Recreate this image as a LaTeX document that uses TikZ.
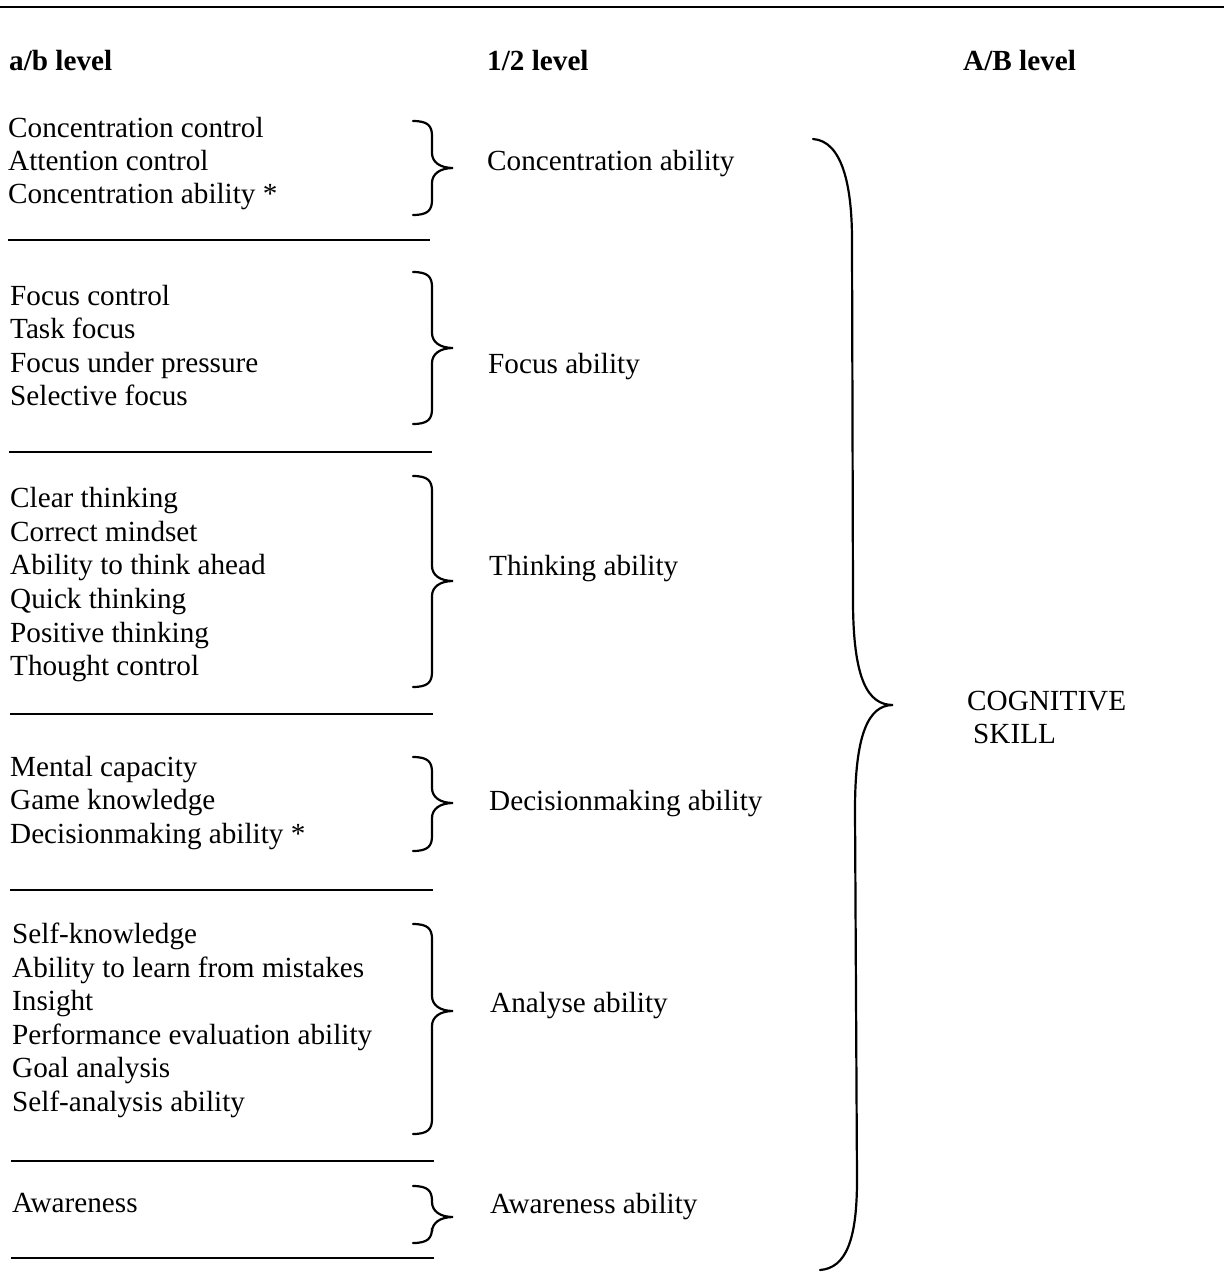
\documentclass[tikz,border=0pt]{standalone}
\usepackage{fontspec}
\setmainfont{Liberation Serif}
\begin{document}
\begin{tikzpicture}[x=1pt,y=-1pt,
  txt/.style={anchor=base west,inner sep=0pt,font=\fontsize{29.2}{33}\selectfont},
  hdr/.style={txt,font=\fontsize{29.2}{33}\selectfont\bfseries},
  rule/.style={line width=1.7pt},
  brc/.style={line width=2.2pt,line cap=round}]
\useasboundingbox (0,0) rectangle (1224,1285);

% small brace: #1 top end, #2 tip height, #3 bottom end
\newcommand\grpbrace[3]{%
  \draw[brc] (413,#1) .. controls (428,#1) and (432,#1+5) .. (432,#1+15)
    -- (432,#2-15) .. controls (432,#2-6) and (440,#2) .. (453,#2)
    .. controls (440,#2) and (432,#2+6) .. (432,#2+15)
    -- (432,#3-15) .. controls (432,#3-5) and (428,#3) .. (413,#3);}

% top rule
\draw[rule] (0,7) -- (1224,7);

% headings
\node[hdr] (hab) at (9,70) {a/b level};
\node[hdr] (h12) at (487,70) {1/2 level};
\node[hdr] (hAB) at (963,70) {A/B level};

% group 1
\node[txt] (a1) at (8,137) {Concentration control};
\node[txt] (a2) at (8,170) {Attention control};
\node[txt] (a3) at (8,203) {Concentration ability *};
\grpbrace{121}{168}{215}
\node[txt] (b1) at (487,170) {Concentration ability};
\draw[rule] (8,240) -- (430,240);

% group 2
\node[txt] (c1) at (10,305) {Focus control};
\node[txt] (c2) at (10,338) {Task focus};
\node[txt] (c3) at (10,372) {Focus under pressure};
\node[txt] (c4) at (10,405) {Selective focus};
\grpbrace{272}{348}{424}
\node[txt] (b2) at (488,373) {Focus ability};
\draw[rule] (9,452) -- (432,452);

% group 3
\node[txt] (d1) at (10,507) {Clear thinking};
\node[txt] (d2) at (10,541) {Correct mindset};
\node[txt] (d3) at (10,574) {Ability to think ahead};
\node[txt] (d4) at (10,608) {Quick thinking};
\node[txt] (d5) at (10,642) {Positive thinking};
\node[txt] (d6) at (10,675) {Thought control};
\grpbrace{476}{581}{687}
\node[txt] (b3) at (489,575) {Thinking ability};
\draw[rule] (10,714) -- (433,714);

% group 4
\node[txt] (e1) at (10,776) {Mental capacity};
\node[txt] (e2) at (10,809) {Game knowledge};
\node[txt] (e3) at (10,843) {Decisionmaking ability *};
\grpbrace{757}{803}{851}
\node[txt] (b4) at (489,810) {Decisionmaking ability};
\draw[rule] (10,890) -- (433,890);

% group 5
\node[txt] (f1) at (12,943) {Self-knowledge};
\node[txt] (f2) at (12,977) {Ability to learn from mistakes};
\node[txt] (f3) at (12,1010) {Insight};
\node[txt] (f4) at (12,1044) {Performance evaluation ability};
\node[txt] (f5) at (12,1077) {Goal analysis};
\node[txt] (f6) at (12,1111) {Self-analysis ability};
\grpbrace{924}{1011}{1134}
\node[txt] (b5) at (490,1012) {Analyse ability};
\draw[rule] (11,1161) -- (434,1161);

% group 6
\node[txt] (g1) at (12,1212) {Awareness};
\grpbrace{1186}{1217}{1243}
\node[txt] (b6) at (490,1213) {Awareness ability};
\draw[rule] (11,1258) -- (434,1258);

% large brace gathering all groups
\draw[brc] (813,139) .. controls (842,141) and (852,185) .. (852,240)
  -- (853,600) .. controls (853,680) and (868,705) .. (893,705)
  .. controls (868,705) and (855,735) .. (855,810)
  -- (857,1180) .. controls (857,1240) and (846,1268) .. (820,1270);

\node[txt] (k1) at (967,710) {COGNITIVE};
\node[txt] (k2) at (973,743) {SKILL};
\end{tikzpicture}
\end{document}
